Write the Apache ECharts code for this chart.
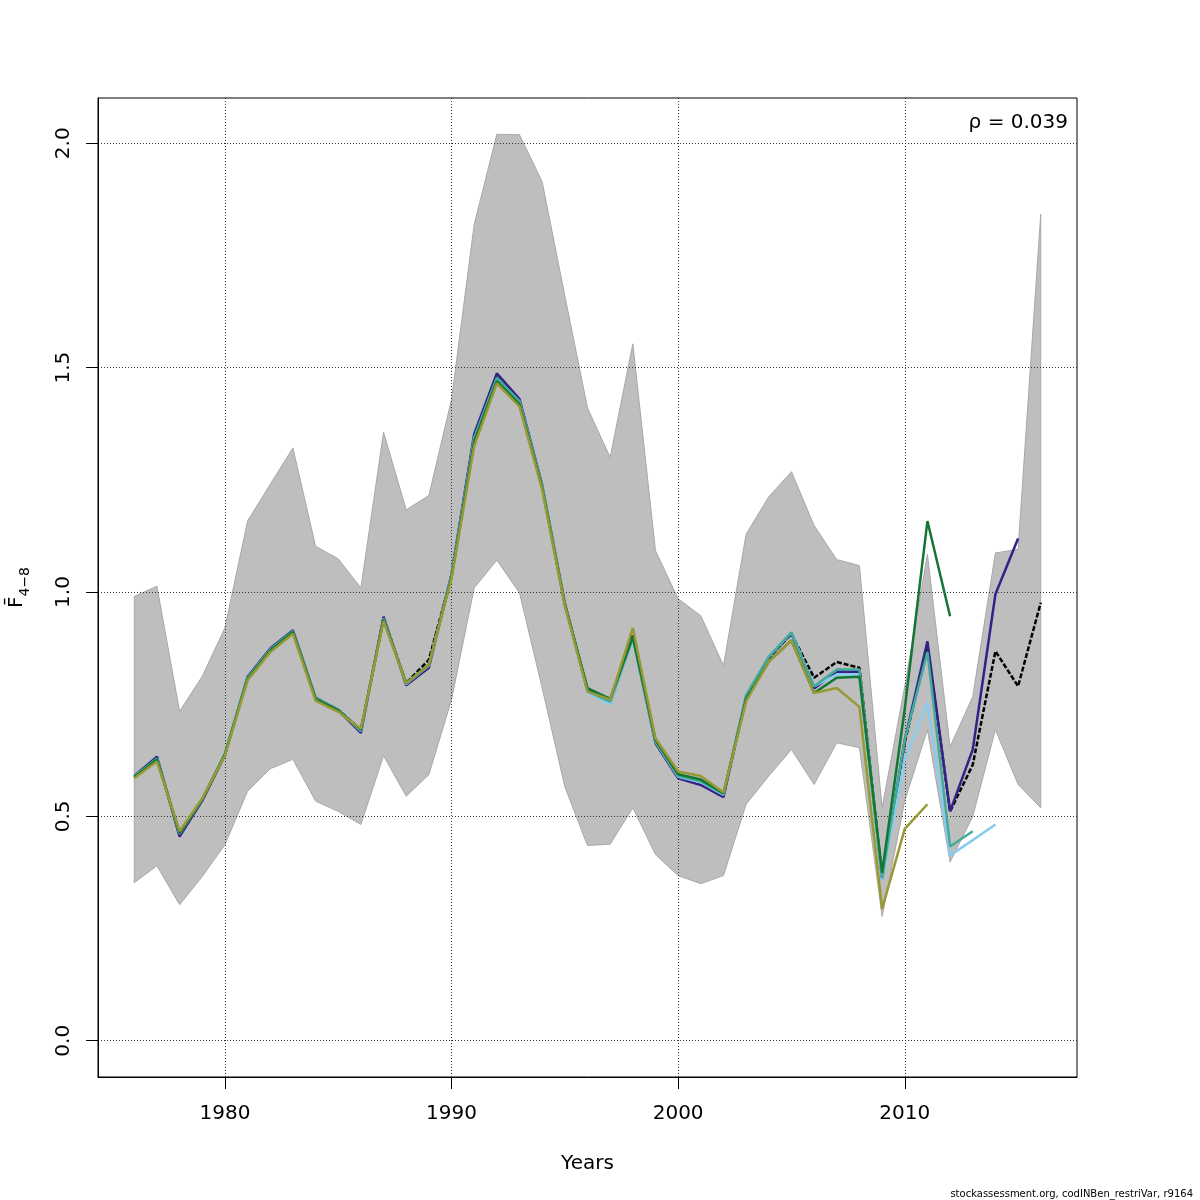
<!DOCTYPE html>
<html>
<head>
<meta charset="utf-8">
<script src="https://cdn.jsdelivr.net/npm/echarts@6/dist/echarts.min.js"></script>
<style>
    html, body { margin: 0; padding: 0; background: #fff; }
    #chart { width: 1200px; height: 1200px; }
</style>
</head>
<body>
<div id="chart"></div>
<script>
// years of the assessment
const years = [1976, 1977, 1978, 1979, 1980, 1981, 1982, 1983, 1984, 1985,
    1986, 1987, 1988, 1989, 1990, 1991, 1992, 1993, 1994, 1995,
    1996, 1997, 1998, 1999, 2000, 2001, 2002, 2003, 2004, 2005,
    2006, 2007, 2008, 2009, 2010, 2011, 2012, 2013, 2014, 2015, 2016];

// confidence band of the base run
const bandUpper = [0.990, 1.013, 0.734, 0.812, 0.920, 1.158, 1.240, 1.321, 1.102, 1.074,
    1.009, 1.356, 1.183, 1.215, 1.429, 1.819, 2.020, 2.019, 1.914, 1.660,
    1.410, 1.300, 1.553, 1.092, 0.985, 0.947, 0.836, 1.129, 1.212, 1.268,
    1.148, 1.072, 1.059, 0.519, 0.790, 1.084, 0.655, 0.767, 1.087, 1.095, 1.842];
const bandLower = [0.352, 0.390, 0.303, 0.366, 0.437, 0.556, 0.606, 0.627, 0.534, 0.511,
    0.482, 0.635, 0.545, 0.593, 0.760, 1.009, 1.071, 0.998, 0.786, 0.566,
    0.435, 0.438, 0.519, 0.415, 0.368, 0.350, 0.368, 0.527, 0.590, 0.649,
    0.571, 0.664, 0.653, 0.277, 0.535, 0.693, 0.398, 0.500, 0.693, 0.571, 0.519];

// base run (to 2016) and the retrospective peels
const fbarBase = [0.588, 0.630, 0.460, 0.537, 0.638, 0.809, 0.872, 0.913, 0.763, 0.738,
    0.692, 0.942, 0.797, 0.849, 1.035, 1.345, 1.478, 1.425, 1.235, 0.973,
    0.780, 0.757, 0.905, 0.668, 0.590, 0.578, 0.548, 0.766, 0.853, 0.907,
    0.809, 0.844, 0.831, 0.365, 0.665, 0.880, 0.511, 0.615, 0.868, 0.790, 0.976];
const fbar2015 = [0.590, 0.633, 0.455, 0.535, 0.637, 0.811, 0.874, 0.915, 0.765, 0.736,
    0.686, 0.945, 0.792, 0.831, 1.040, 1.352, 1.487, 1.430, 1.238, 0.975,
    0.782, 0.752, 0.898, 0.663, 0.585, 0.570, 0.543, 0.768, 0.855, 0.908,
    0.785, 0.823, 0.822, 0.360, 0.670, 0.890, 0.511, 0.649, 0.995, 1.119];
const fbar2014 = [0.589, 0.628, 0.462, 0.539, 0.640, 0.808, 0.871, 0.912, 0.764, 0.737,
    0.690, 0.940, 0.795, 0.836, 1.037, 1.342, 1.476, 1.424, 1.236, 0.973,
    0.776, 0.750, 0.895, 0.666, 0.588, 0.576, 0.548, 0.770, 0.856, 0.910,
    0.790, 0.816, 0.816, 0.359, 0.627, 0.753, 0.413, 0.447, 0.482];
const fbar2013 = [0.589, 0.629, 0.461, 0.538, 0.640, 0.809, 0.872, 0.913, 0.764, 0.738,
    0.691, 0.941, 0.796, 0.837, 1.036, 1.343, 1.477, 1.425, 1.236, 0.974,
    0.779, 0.755, 0.898, 0.667, 0.590, 0.578, 0.550, 0.770, 0.856, 0.910,
    0.790, 0.827, 0.827, 0.363, 0.671, 0.866, 0.433, 0.467];
const fbar2012 = [0.587, 0.627, 0.463, 0.538, 0.638, 0.806, 0.869, 0.911, 0.762, 0.736,
    0.693, 0.938, 0.797, 0.838, 1.033, 1.335, 1.470, 1.418, 1.232, 0.972,
    0.786, 0.762, 0.900, 0.670, 0.594, 0.582, 0.551, 0.762, 0.845, 0.892,
    0.775, 0.809, 0.811, 0.374, 0.740, 1.158, 0.946];
const fbar2011 = [0.585, 0.622, 0.467, 0.540, 0.636, 0.803, 0.866, 0.907, 0.758, 0.733,
    0.695, 0.935, 0.797, 0.838, 1.030, 1.325, 1.465, 1.413, 1.228, 0.970,
    0.778, 0.760, 0.920, 0.674, 0.600, 0.590, 0.553, 0.756, 0.845, 0.892,
    0.775, 0.786, 0.744, 0.294, 0.472, 0.527];

// tick positions
const xTicks = [1980, 1990, 2000, 2010];
const yTicks = [0, 0.5, 1.0, 1.5, 2.0];

const rhoText = 'ρ = 0.039';
const footerText = 'stockassessment.org, codINBen_restriVar, r9164';

const fontFamily = 'DejaVu Sans';

// pair up values with years
function toPoints(values) {
    return values.map((v, i) => [years[i], v]);
}

// one retro / base line
function fbarLine(name, values, color, dashed) {
    return {
        name: name,
        type: 'line',
        data: toPoints(values),
        symbol: 'none',
        z: 5,
        lineStyle: {
            color: color,
            width: 2.5,
            type: dashed ? [5, 2] : 'solid'
        }
    };
}

// band polygon: upper edge left to right, then lower edge back
function renderBand(params, api) {
    if (params.dataIndex !== 0) {
        return null;
    }
    const points = [];
    for (let i = 0; i < years.length; i++) {
        points.push(api.coord([years[i], bandUpper[i]]));
    }
    for (let i = years.length - 1; i >= 0; i--) {
        points.push(api.coord([years[i], bandLower[i]]));
    }
    return {
        type: 'polygon',
        shape: { points: points },
        style: { fill: '#bebebe', stroke: '#a8a8a8', lineWidth: 1 }
    };
}

const chart = echarts.init(document.getElementById('chart'));

const gridLine = { show: true, lineStyle: { color: '#333', width: 1, type: [1, 2] } };
const axisText = { fontSize: 20, color: '#000', fontFamily: fontFamily };

const option = {
    animation: false,
    backgroundColor: '#fff',
    grid: {
        left: 98, top: 98, right: 123, bottom: 123,
        containLabel: false,
        outerBoundsMode: 'none',
        show: true, borderColor: '#000', borderWidth: 1, backgroundColor: 'transparent'
    },
    xAxis: {
        type: 'value',
        min: 1974.4,
        max: 2017.6,
        z: 3,
        axisLine: { show: true, onZero: false, lineStyle: { color: '#000', width: 1 } },
        axisTick: { show: true, length: 12, lineStyle: { color: '#000' }, customValues: xTicks },
        axisLabel: Object.assign({
            customValues: xTicks, margin: 27,
            formatter: v => String(v)
        }, axisText),
        splitLine: gridLine,
        name: 'Years',
        nameLocation: 'middle',
        nameGap: 77,
        nameTextStyle: axisText
    },
    yAxis: {
        type: 'value',
        min: -0.0808,
        max: 2.1008,
        z: 3,
        axisLine: { show: true, onZero: false, lineStyle: { color: '#000', width: 1 } },
        axisTick: { show: true, length: 12, lineStyle: { color: '#000' }, customValues: yTicks },
        axisLabel: Object.assign({
            customValues: yTicks, rotate: 90, margin: 24,
            formatter: v => v.toFixed(1)
        }, axisText),
        splitLine: gridLine,
        name: '{f|F\u0304}{s|4\u22128}',
        nameLocation: 'middle',
        nameRotate: 90,
        nameGap: 66,
        nameTextStyle: {
            color: '#000',
            fontFamily: fontFamily,
            rich: {
                f: { fontSize: 20, lineHeight: 30, verticalAlign: 'middle', fontFamily: fontFamily, color: '#000' },
                s: { fontSize: 14, lineHeight: 30, verticalAlign: 'bottom', fontFamily: fontFamily, color: '#000' }
            }
        }
    },
    graphic: [
        {
            type: 'text', right: 132, top: 113, z: 10,
            style: { text: rhoText, fontSize: 20, fontFamily: fontFamily, fill: '#000' }
        },
        {
            type: 'text', right: 7, bottom: 1, z: 10,
            style: { text: footerText, fontSize: 10, fontFamily: fontFamily, fill: '#000' }
        }
    ],
    series: [
        {
            name: 'band',
            type: 'custom',
            renderItem: renderBand,
            data: years.map((y, i) => [y, bandLower[i], bandUpper[i]]),
            encode: { x: 0, y: [1, 2] },
            z: 1,
            silent: true
        },
        fbarLine('base', fbarBase, '#000000', true),
        fbarLine('2015', fbar2015, '#332288', false),
        fbarLine('2014', fbar2014, '#88CCEE', false),
        fbarLine('2013', fbar2013, '#44AA99', false),
        fbarLine('2012', fbar2012, '#117733', false),
        fbarLine('2011', fbar2011, '#999933', false)
    ]
};

chart.setOption(option);
</script>
</body>
</html>
